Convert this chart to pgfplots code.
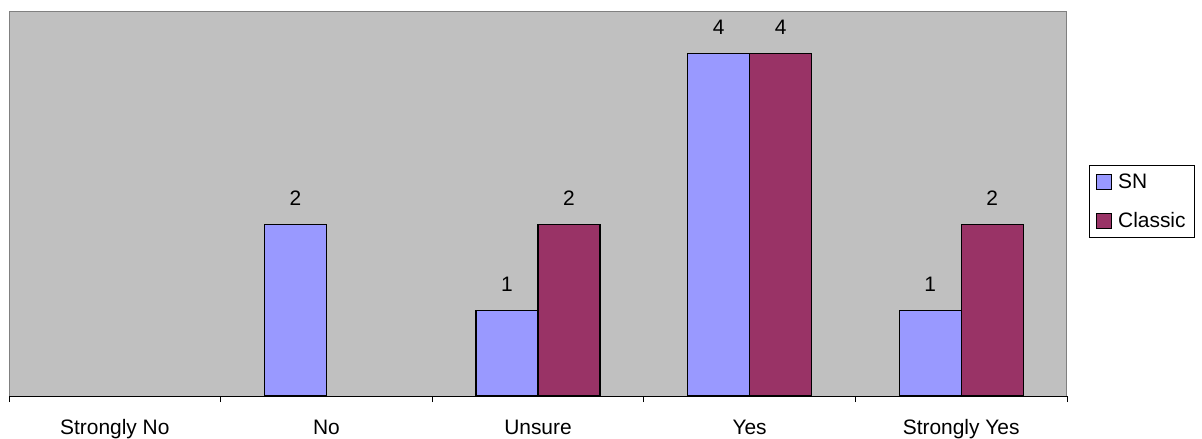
\documentclass[border=0pt]{standalone}
\usepackage{fontspec}
\setmainfont{Liberation Sans}
\usepackage{pgfplots}
\pgfplotsset{compat=1.18}
\definecolor{snc}{HTML}{9999FF}
\definecolor{clc}{HTML}{993366}
\definecolor{bgc}{HTML}{C0C0C0}
\definecolor{brd}{HTML}{808080}
\begin{document}
\begin{tikzpicture}
\useasboundingbox (-9bp,-43bp) rectangle (1193bp,396bp);
\begin{axis}[
  at={(0,0)}, anchor=south west,
  scale only axis, width=1058bp, height=385bp,
  font=\fontsize{21}{25}\selectfont,
  /pgf/number format/assume math mode=true,
  xmin=-0.5, xmax=4.5, ymin=0, ymax=4.5,
  ytick=\empty,
  xtick={0,1,2,3,4},
  xticklabels={Strongly No,No,Unsure,Yes,Strongly Yes},
  major tick length=0pt,
  xtick pos=bottom,
  xticklabel style={anchor=base, yshift=-38bp},
  extra x ticks={-0.5,0.5,1.5,2.5,3.5,4.5},
  extra x tick labels={},
  extra x tick style={major tick length=6bp, tick align=outside, tick style={black, line width=0.8bp}},
  axis background/.style={fill=bgc},
  axis line style={draw=brd, line width=1bp},
  ybar, bar width=0.293,
  nodes near coords,
  nodes near coords style={anchor=base, yshift=19bp, black},
  legend style={at={(1.0208,0.6)}, anchor=north west, draw=black, line width=0.8bp,
    font=\fontsize{21}{25}\selectfont, inner xsep=7bp, inner ysep=6bp,
    row sep=19bp, cells={anchor=west},
    /tikz/every odd column/.append style={column sep=4bp}},
  legend image code/.code={\draw[#1, draw=black, line width=0.8bp] (0bp,-7.5bp) rectangle (15bp,7.5bp);},
]
\addplot[fill=snc, draw=black, line width=1.1bp, bar shift=-0.1465] coordinates {(1,2) (2,1) (3,4) (4,1)};
\addplot[fill=clc, draw=black, line width=1.1bp, bar shift=0.1465] coordinates {(2,2) (3,4) (4,2)};
\legend{SN,Classic}
\draw[black, line width=1bp] (rel axis cs:0,0) -- (rel axis cs:1,0);
\end{axis}
\end{tikzpicture}
\end{document}
